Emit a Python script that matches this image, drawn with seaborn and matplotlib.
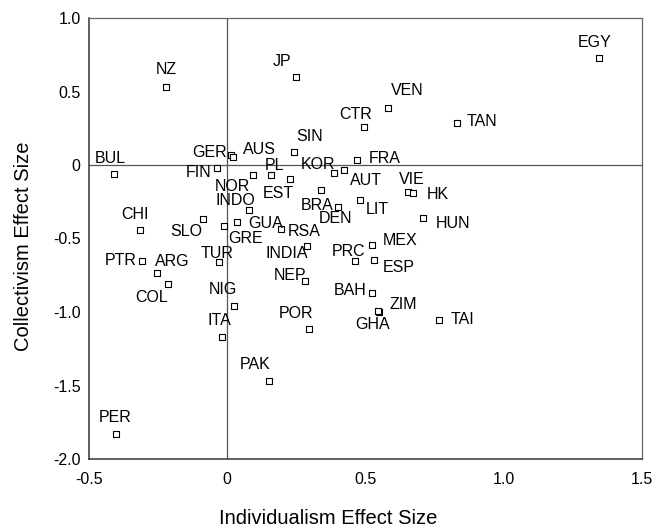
import matplotlib
matplotlib.use("Agg")
import matplotlib.pyplot as plt
import numpy as np
import pandas as pd
import seaborn as sns


countries = [
    "EGY", "NZ", "JP", "VEN", "CTR", "TAN", "SIN", "BUL", "GER", "AUS",
    "FIN", "NOR", "PL", "EST", "KOR", "AUT", "FRA", "VIE", "HK", "BRA",
    "LIT", "DEN", "HUN", "INDO", "CHI", "SLO", "GRE", "GUA", "RSA", "INDIA",
    "MEX", "PRC", "ESP", "TUR", "PTR", "ARG", "COL", "NEP", "BAH", "NIG",
    "ZIM", "GHA", "TAI", "POR", "ITA", "PAK", "PER",
]
individualism = [
    1.344, -0.221, 0.249, 0.580, 0.495, 0.830, 0.242, -0.409, 0.013, 0.020,
    -0.038, 0.094, 0.157, 0.227, 0.387, 0.424, 0.471, 0.655, 0.673, 0.338,
    0.480, 0.402, 0.707, 0.080, -0.315, -0.086, -0.012, 0.034, 0.193, 0.290,
    0.523, 0.462, 0.531, -0.030, -0.309, -0.255, -0.215, 0.281, 0.523, 0.026,
    0.550, 0.547, 0.767, 0.295, -0.019, 0.151, -0.403,
]
collectivism = [
    0.727, 0.533, 0.598, 0.390, 0.261, 0.288, 0.088, -0.062, 0.068, 0.052,
    -0.023, -0.069, -0.069, -0.096, -0.057, -0.035, 0.033, -0.183, -0.190, -0.171,
    -0.239, -0.285, -0.360, -0.303, -0.444, -0.369, -0.417, -0.387, -0.432, -0.553,
    -0.546, -0.653, -0.644, -0.662, -0.653, -0.735, -0.808, -0.790, -0.872, -0.958,
    -0.997, -0.990, -1.053, -1.117, -1.167, -1.467, -1.827,
]
x_ticks = [-0.5, 0, 0.5, 1.0, 1.5]
x_tick_labels = ["-0.5", "0", "0.5", "1.0", "1.5"]
y_ticks = [1.0, 0.5, 0, -0.5, -1.0, -1.5, -2.0]
y_tick_labels = ["1.0", "0.5", "0", "-0.5", "-1.0", "-1.5", "-2.0"]

# where each country label sits relative to its marker (pixels)
label_offsets = {
    "EGY": (-4, 16), "NZ": (0, 17), "JP": (-14, 16), "VEN": (20, 17),
    "CTR": (-8, 12), "TAN": (25, 1), "SIN": (15, 16), "BUL": (-4, 16),
    "GER": (-21, 3), "AUS": (27, 8), "FIN": (-18, -4), "NOR": (-21, -11),
    "PL": (4, 10), "EST": (-12, -14), "KOR": (-16, 9), "AUT": (21, -10),
    "FRA": (27, 2), "VIE": (3, 12), "HK": (24, -2), "BRA": (-4, -15),
    "LIT": (17, -9), "DEN": (-3, -12), "HUN": (30, -6), "INDO": (-14, 9),
    "CHI": (-5, 16), "SLO": (-17, -12), "GRE": (22, -12), "GUA": (29, -2),
    "RSA": (24, -3), "INDIA": (-21, -7), "MEX": (28, 5), "PRC": (-6, 9),
    "ESP": (25, -8), "TUR": (-2, 9), "PTR": (-21, 0), "ARG": (16, 12),
    "COL": (-16, -14), "NEP": (-15, 6), "BAH": (-22, 3), "NIG": (-12, 16),
    "ZIM": (24, 7), "GHA": (-6, -14), "TAI": (23, 0), "POR": (-13, 16),
    "ITA": (-3, 16), "PAK": (-14, 16), "PER": (-1, 16),
}

df = pd.DataFrame({
    "country": countries,
    "Individualism Effect Size": individualism,
    "Collectivism Effect Size": collectivism,
})

sns.set_theme(style="white")
plt.rcParams["font.family"] = ["Liberation Sans", "DejaVu Sans"]

fig = plt.figure(figsize=(6.55, 5.29), dpi=100)
ax = fig.add_axes([89 / 655, 1 - 459 / 529, 553 / 655, 441 / 529])

ax.axhline(0, color="#555555", lw=0.9, zorder=1)
ax.axvline(0, color="#555555", lw=0.9, zorder=1)

sns.scatterplot(
    df,
    x="Individualism Effect Size", y="Collectivism Effect Size",
    marker="s", s=16, facecolor="white", edgecolor="black", linewidth=0.8,
    zorder=3, ax=ax
)

for c, xv, yv in zip(countries, individualism, collectivism):
    dx, dy = label_offsets[c]
    ax.annotate(
        c, (xv, yv), xytext=(dx, dy), textcoords="offset pixels",
        ha="center", va="center", fontsize=11.5, color="black", zorder=4
    )

ax.set_xlim(-0.5, 1.5)
ax.set_ylim(-2.0, 1.0)
ax.set_xticks(x_ticks, x_tick_labels)
ax.set_yticks(y_ticks, y_tick_labels)
ax.tick_params(axis="both", direction="out", length=3, width=1.5,
               color="black", labelsize=11.5, labelcolor="black")
ax.tick_params(axis="x", pad=6)
ax.tick_params(axis="y", pad=3)

for side in ["left", "bottom"]:
    ax.spines[side].set_color("#333333")
    ax.spines[side].set_linewidth(1.1)
for side in ["top", "right"]:
    ax.spines[side].set_color("#666666")
    ax.spines[side].set_linewidth(0.9)

ax.set_xlabel("Individualism Effect Size", fontsize=14.5, color="black")
ax.set_ylabel("Collectivism Effect Size", fontsize=14.5, color="black")
ax.xaxis.set_label_coords((328 - 89) / 553, -50 / 441)
ax.yaxis.set_label_coords(-56 / 553, (459 - 246) / 441)

plt.savefig("out.png", dpi=100)
